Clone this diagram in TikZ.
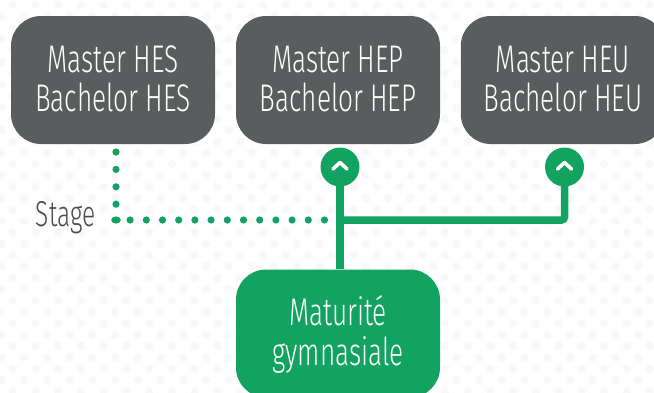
\documentclass[tikz,border=0pt]{standalone}
\usepackage{fontspec}
\setmainfont[FakeStretch=0.68]{Fira Sans Light}
\definecolor{boxgray}{HTML}{5A5D5E}
\definecolor{boxgreen}{HTML}{12A360}
\definecolor{bgdot}{HTML}{F8F8F8}
\definecolor{stagegray}{HTML}{4A4C4D}
\newcommand\twolines[2]{\parbox[c][128pt][t]{204pt}{\centering\rule{0pt}{56pt}#1\\#2\par\vfill}}
\tikzset{
  study/.style={draw=none,fill=boxgray,rounded corners=30pt,minimum width=204pt,minimum height=128pt,text=white,font=\fontsize{38.5}{39.5}\selectfont,inner sep=0pt},
  entry/.style={study,fill=boxgreen},
  badge/.style={circle,fill=boxgreen,minimum size=39pt,inner sep=0pt},
  solidlink/.style={draw=boxgreen,line width=7.5pt},
  dotlink/.style={draw=boxgreen,line width=7.2pt,line cap=round},
  chevron/.style={draw=white,line width=3.6pt,line cap=round,line join=round}
}
\begin{document}
\begin{tikzpicture}[x=1pt,y=-1pt]
\useasboundingbox (0,0) rectangle (654,392);
\clip (0,0) rectangle (654,392);
\fill[white] (0,0) rectangle (654,392);
\foreach \r in {0,...,35}{
  \pgfmathsetmacro\yy{5+11.37*\r}
  \pgfmathtruncatemacro\odd{mod(\r,2)}
  \pgfmathsetmacro\xs{\odd==1?1.3:-10.05}
  \foreach \c in {0,...,29}{
    \fill[bgdot] ({\xs+22.75*\c},\yy) circle (4.1pt);
  }
}
\node[study] (hes) at (113,80) {\twolines{Master HES}{Bachelor HES}};
\node[study] (hep) at (338,80) {\twolines{Master HEP}{Bachelor HEP}};
\node[study] (heu) at (562.8,80) {\twolines{Master HEU}{Bachelor HEU}};
\node[entry] (mat) at (338,333.5) {\twolines{Maturité}{gymnasiale}};
\node[badge] (bhep) at (340,167) {};
\node[badge] (bheu) at (564.5,167) {};
\coordinate (junction) at (bhep |- 0,220);
\coordinate (dotcorner) at (116,220);
\coordinate (dottop) at (116,152);
\coordinate (dotend) at (324.5,220);
\draw[solidlink] (bhep.center) -- (bhep.center |- mat.north);
\draw[solidlink,rounded corners=3pt] (junction) -- (bheu.center |- junction) -- (bheu.center);
\draw[chevron] ([shift={(-7,2)}]bhep.center) -- ([shift={(0,-4.5)}]bhep.center) -- ([shift={(7,2)}]bhep.center);
\draw[chevron] ([shift={(-7,2)}]bheu.center) -- ([shift={(0,-4.5)}]bheu.center) -- ([shift={(7,2)}]bheu.center);
\draw[dotlink,dash pattern=on 0pt off 17.4pt] (dottop) -- (dotcorner);
\draw[dotlink,dash pattern=on 0pt off 16.2pt] (dotend) -- (dotcorner);
\fill[boxgreen] (dotcorner) ellipse (4.8pt and 3.6pt);
\node[anchor=base east,text=stagegray,font=\fontsize{36}{40}\selectfont,inner sep=0pt] (stage) at (95.5,226) {Stage};
\end{tikzpicture}
\end{document}
